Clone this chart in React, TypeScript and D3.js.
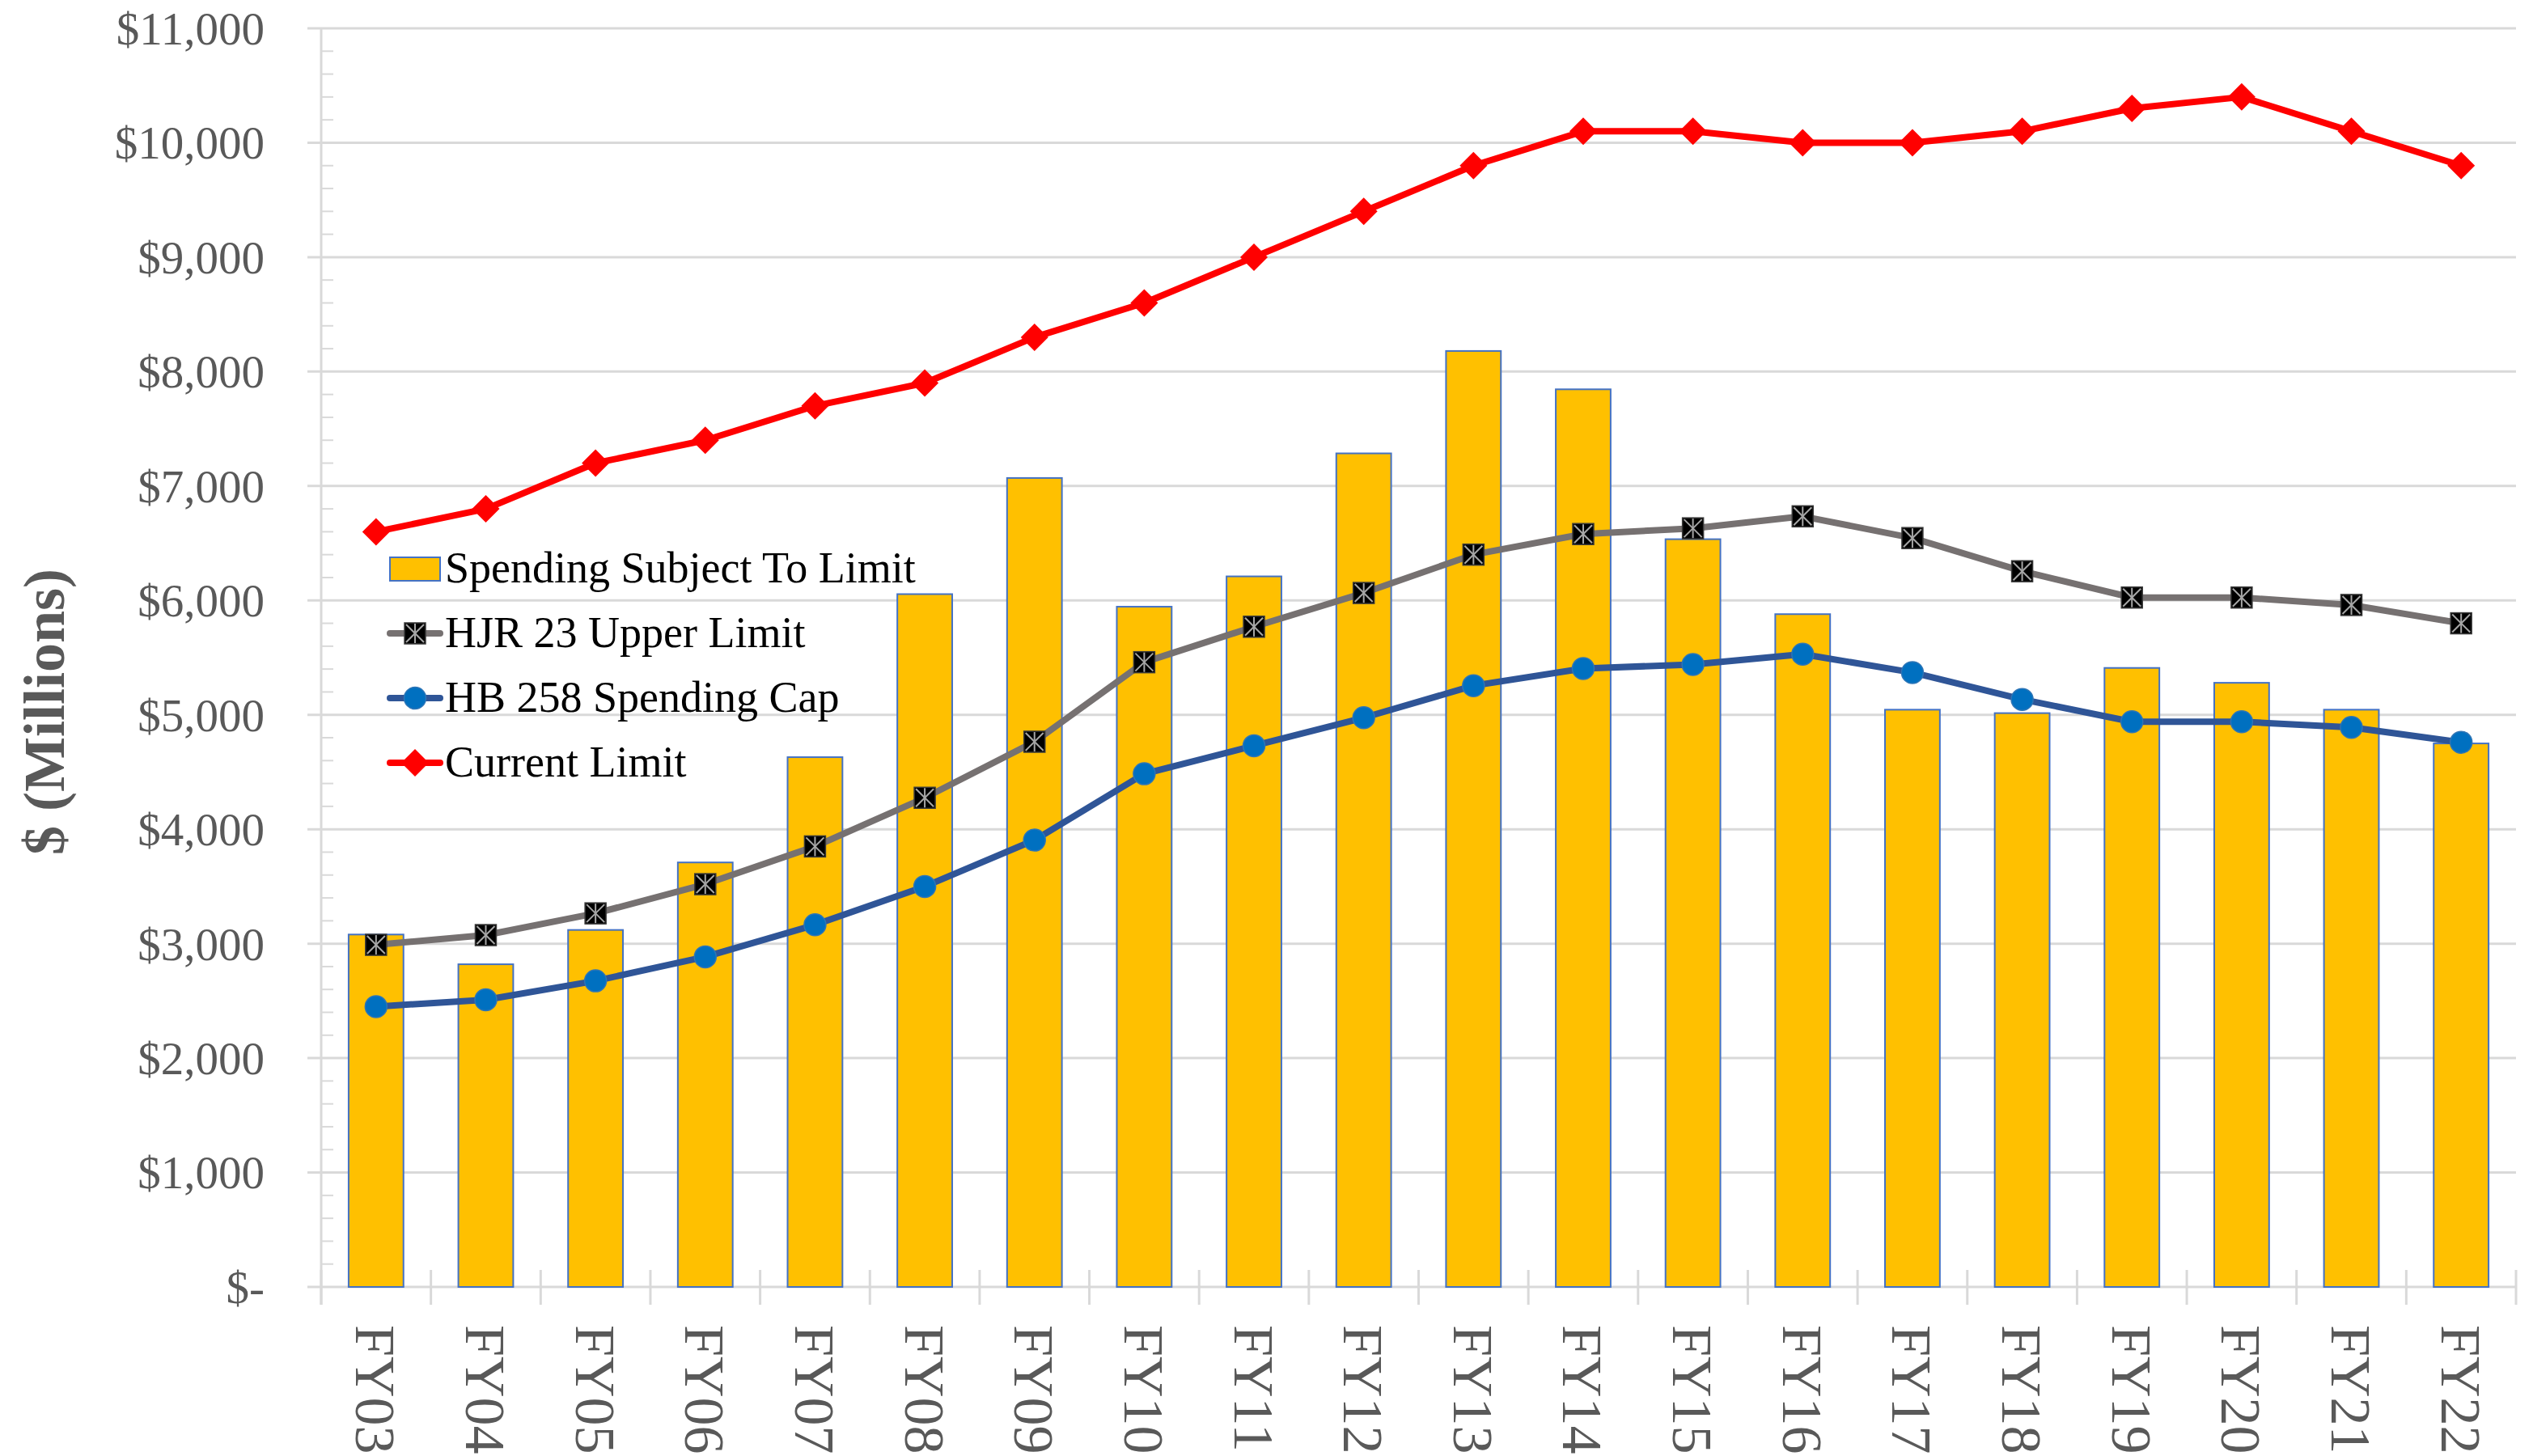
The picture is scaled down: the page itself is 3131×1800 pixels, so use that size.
import React from "react";
import * as d3 from "d3";

const categories = ["FY03","FY04","FY05","FY06","FY07","FY08","FY09","FY10","FY11","FY12","FY13","FY14","FY15","FY16","FY17","FY18","FY19","FY20","FY21","FY22"];
const spending = [3080,2820,3120,3710,4630,6055,7070,5945,6210,7285,8180,7845,6535,5880,5045,5015,5410,5280,5045,4750];
const hjr23 = [2990,3075,3265,3520,3850,4275,4765,5460,5770,6065,6400,6580,6630,6735,6545,6255,6025,6025,5960,5800];
const hb258 = [2450,2510,2675,2885,3165,3500,3905,4485,4730,4975,5255,5405,5440,5530,5370,5135,4940,4940,4890,4760];
const currentLimit = [6600,6800,7200,7400,7700,7900,8300,8600,9000,9400,9800,10100,10100,10000,10000,10100,10300,10400,10100,9800];
const yTicks = [0,1000,2000,3000,4000,5000,6000,7000,8000,9000,10000,11000];
const legendLabels = ["Spending Subject To Limit","HJR 23 Upper Limit","HB 258 Spending Cap","Current Limit"];

const W = 3131, H = 1800;
const left = 397, right = 3110, top = 35, bottom = 1591;
const FONT = "'Liberation Serif', 'Times New Roman', serif";

function StarSquare({ cx, cy, s = 26 }: { cx: number; cy: number; s?: number }) {
  const h = s / 2;
  return (
    <g>
      <rect x={cx - h} y={cy - h} width={s} height={s} fill="#000" stroke="#3a3a3a" strokeWidth={1.5} />
      <line x1={cx - h + 2} y1={cy - h + 2} x2={cx + h - 2} y2={cy + h - 2} stroke="#a6a6a6" strokeWidth={2} />
      <line x1={cx + h - 2} y1={cy - h + 2} x2={cx - h + 2} y2={cy + h - 2} stroke="#a6a6a6" strokeWidth={2} />
      <line x1={cx} y1={cy - h + 1} x2={cx} y2={cy + h - 1} stroke="#a6a6a6" strokeWidth={2} />
    </g>
  );
}

function Dot({ cx, cy }: { cx: number; cy: number }) {
  return <circle cx={cx} cy={cy} r={13.5} fill="#0070C0" stroke="#2E75B6" strokeWidth={1.5} />;
}

function Diamond({ cx, cy, r = 17 }: { cx: number; cy: number; r?: number }) {
  return <path d={`M${cx},${cy - r}L${cx + r},${cy}L${cx},${cy + r}L${cx - r},${cy}Z`} fill="#FF0000" />;
}

export default function App() {
  const x = d3.scaleBand<string>().domain(categories).range([left, right]).paddingInner(0.5).paddingOuter(0.25);
  const y = d3.scaleLinear().domain([0, 11000]).range([bottom, top]);
  const cx = (i: number) => (x(categories[i]) as number) + x.bandwidth() / 2;
  const step = x.step();

  const straight = d3.line<number>().x((_, i) => cx(i)).y((d) => y(d));

  const minor = d3.range(0, 11000, 200).filter((v) => v % 1000 !== 0);
  const fmt = (v: number) => (v === 0 ? "$-" : "$" + d3.format(",")(v));

  const catBounds = d3.range(categories.length + 1).map((i) => left + i * step);

  const legY = [703, 783, 863, 943];
  const lx0 = 482, lx1 = 544, lmid = 513;

  return (
    <svg width={W} height={H} style={{ position: "absolute", left: 0, top: 0, background: "#fff" }} fontFamily={FONT}>
      {/* gridlines */}
      {yTicks.map((t) => (
        <line key={"g" + t} x1={380} x2={right} y1={y(t)} y2={y(t)} stroke="#d9d9d9" strokeWidth={3} />
      ))}
      {/* minor ticks */}
      {minor.map((t) => (
        <line key={"m" + t} x1={left} x2={left + 15} y1={y(t)} y2={y(t)} stroke="#d9d9d9" strokeWidth={2} />
      ))}
      {/* y axis */}
      <line x1={left} x2={left} y1={top} y2={bottom + 22} stroke="#d9d9d9" strokeWidth={3} />
      {/* x axis ticks */}
      {catBounds.map((b, i) => (
        <line key={"xt" + i} x1={b} x2={b} y1={bottom - 21} y2={bottom + 22} stroke="#d9d9d9" strokeWidth={3} />
      ))}
      {/* y tick labels */}
      {yTicks.map((t) => (
        <text key={"yl" + t} x={327} y={y(t)} dy="0.35em" textAnchor="end" fontSize={57} fill="#595959">
          {fmt(t)}
        </text>
      ))}
      {/* x labels */}
      {categories.map((c, i) => (
        <text key={"xl" + c} transform={`translate(${cx(i)},${1638}) rotate(90)`} dy="0.35em" textAnchor="start" fontSize={70} fill="#595959">
          {c}
        </text>
      ))}
      {/* axis title */}
      <text transform={`translate(54,880) rotate(-90)`} dy="0.35em" textAnchor="middle" fontSize={72} fontWeight="bold" fill="#595959">
        $ (Millions)
      </text>
      {/* bars */}
      {spending.map((v, i) => (
        <rect key={"b" + i} x={x(categories[i])} y={y(v)} width={x.bandwidth()} height={bottom - y(v)} fill="#FFC000" stroke="#4472C4" strokeWidth={2} />
      ))}
      {/* lines */}
      <path d={straight(hjr23) || ""} fill="none" stroke="#767171" strokeWidth={8} strokeLinejoin="round" />
      <path d={straight(hb258) || ""} fill="none" stroke="#2F5597" strokeWidth={8} strokeLinejoin="round" />
      <path d={straight(currentLimit) || ""} fill="none" stroke="#FF0000" strokeWidth={8} strokeLinejoin="round" />
      {hjr23.map((v, i) => <StarSquare key={"s" + i} cx={cx(i)} cy={y(v)} />)}
      {hb258.map((v, i) => <Dot key={"d" + i} cx={cx(i)} cy={y(v)} />)}
      {currentLimit.map((v, i) => <Diamond key={"r" + i} cx={cx(i)} cy={y(v)} />)}
      {/* legend */}
      <rect x={lx0} y={legY[0] - 14} width={lx1 - lx0} height={29} fill="#FFC000" stroke="#4472C4" strokeWidth={2} />
      <line x1={lx0} x2={lx1} y1={legY[1]} y2={legY[1]} stroke="#767171" strokeWidth={8} strokeLinecap="round" />
      <StarSquare cx={lmid} cy={legY[1]} />
      <line x1={lx0} x2={lx1} y1={legY[2]} y2={legY[2]} stroke="#2F5597" strokeWidth={8} strokeLinecap="round" />
      <Dot cx={lmid} cy={legY[2]} />
      <line x1={lx0} x2={lx1} y1={legY[3]} y2={legY[3]} stroke="#FF0000" strokeWidth={8} strokeLinecap="round" />
      <Diamond cx={lmid} cy={legY[3]} />
      {legendLabels.map((l, i) => (
        <text key={"lg" + i} x={550} y={legY[i]} dy="0.32em" fontSize={54} fill="#000">
          {l}
        </text>
      ))}
    </svg>
  );
}
